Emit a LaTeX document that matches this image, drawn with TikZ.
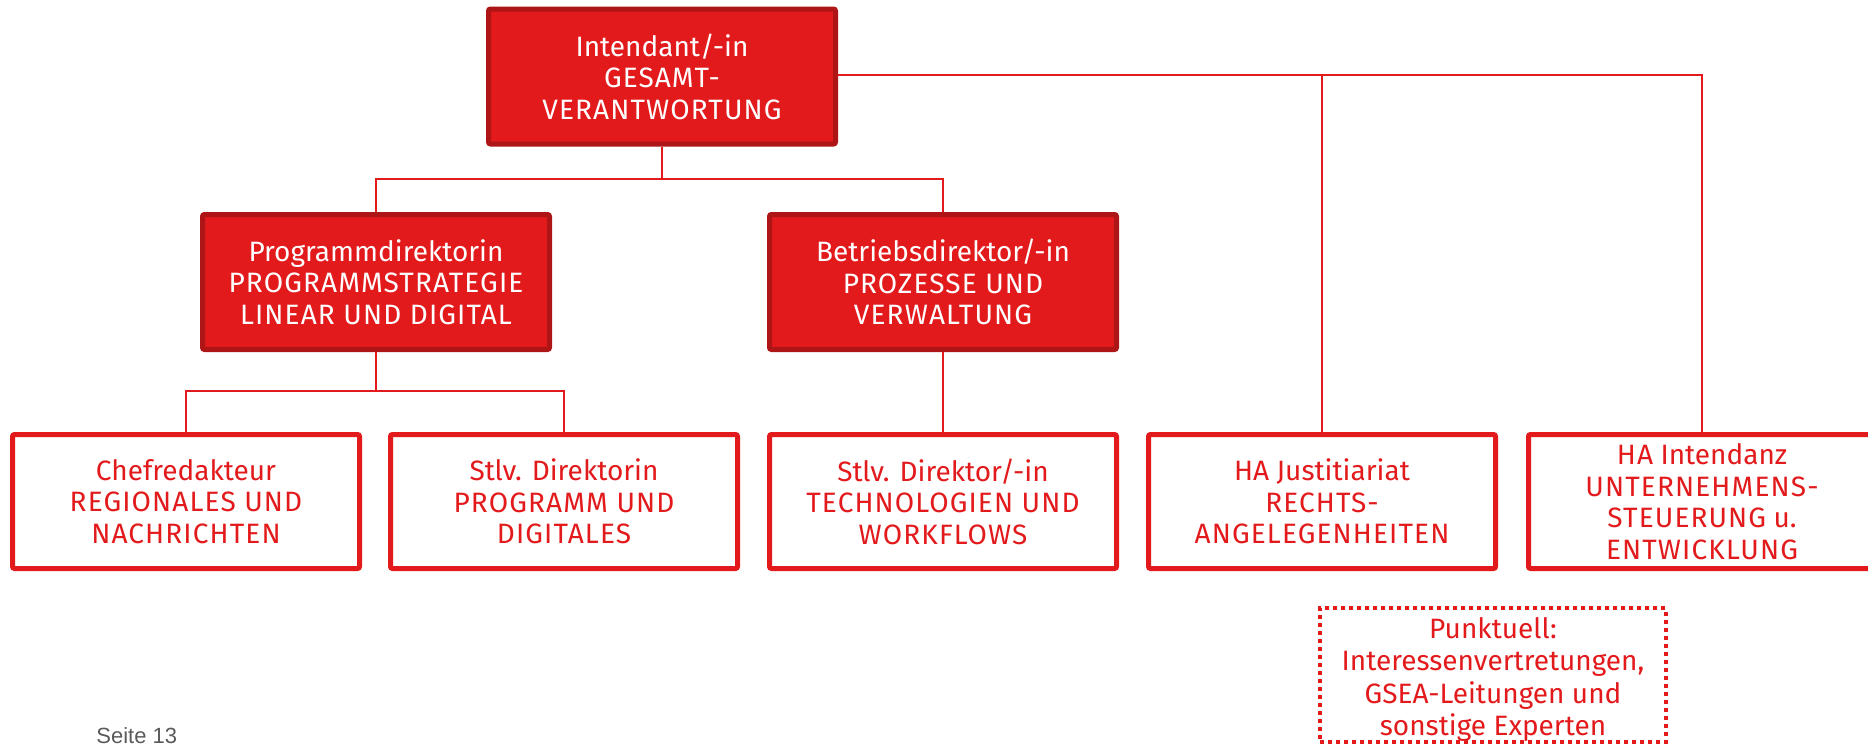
\documentclass[tikz,border=0pt]{standalone}
\usepackage{fontspec}
\setmainfont{Fira Sans}
\newfontfamily\capsf[LetterSpace=4]{Fira Sans}
\newfontfamily\arialfont{Liberation Sans}
\definecolor{boxred}{HTML}{E31A1C}
\definecolor{darkred}{HTML}{AE1517}
\definecolor{pagegrey}{HTML}{5A5A5A}
\newcommand{\cp}[1]{{\capsf #1}}
\begin{document}
\begin{tikzpicture}[x=0.5pt,y=-0.5pt,
  lead/.style={draw=darkred, line width=2.5pt, fill=boxred, text=white,
    minimum width=173.5pt, minimum height=67.5pt, inner sep=0pt, align=center,
    rounded corners=1pt, font=\fontsize{14}{15.75}\selectfont},
  unit/.style={draw=boxred, line width=2.5pt, fill=white, text=boxred,
    minimum width=173.5pt, minimum height=67pt, inner sep=0pt, align=center,
    rounded corners=1pt, font=\fontsize{14}{15.75}\selectfont},
  note/.style={draw=boxred, line width=2pt, dash pattern=on 2pt off 2pt, text=boxred,
    minimum width=173pt, minimum height=65pt, inner sep=0pt, align=center,
    font=\fontsize{14}{16.2}\selectfont},
  conn/.style={draw=boxred, line width=1pt}]
\useasboundingbox (0,0) rectangle (1868,744);
% boxes
\node[lead] (int) at (662,76.5) {Intendant/-in\\\cp{GESAMT-}\\\cp{VERANTWORTUNG}};
\node[lead] (prog) at (376,282) {Programmdirektorin\\\cp{PROGRAMMSTRATEGIE}\\\cp{LINEAR UND DIGITAL}};
\node[lead] (betr) at (943,282) {Betriebsdirektor/-in\\\cp{PROZESSE UND}\\\cp{VERWALTUNG}};
\node[unit] (chef) at (186,501.5) {Chefredakteur\\\cp{REGIONALES UND}\\\cp{NACHRICHTEN}};
\node[unit] (stlvp) at (564,501.5) {Stlv. Direktorin\\\cp{PROGRAMM UND}\\\cp{DIGITALES}};
\node[unit] (stlvt) at (943,501.5) {Stlv. Direktor/-in\\\cp{TECHNOLOGIEN UND}\\\cp{WORKFLOWS}};
\node[unit] (just) at (1322,501.5) {HA Justitiariat\\\cp{RECHTS-}\\\cp{ANGELEGENHEITEN}};
\node[unit] (intz) at (1702,501.5) {\cp{HA} Intendanz\\\cp{UNTERNEHMENS-}\\\cp{STEUERUNG} u.\\\cp{ENTWICKLUNG}};
\node[note] (punkt) at (1493,675) {\rule{0pt}{15pt}Punktuell:\\Interessenvertretungen,\\GSEA-Leitungen und\\sonstige Experten};
\node[anchor=base west, text=pagegrey, font=\arialfont\fontsize{11}{13}\selectfont, inner sep=0pt] (seite) at (96,743) {Seite 13};
% connectors
\coordinate (j1) at (662,179);
\coordinate (j2) at (376,391);
\coordinate (t1) at (1702,75);
\draw[conn] (int.south) -- (j1) -| (prog.north);
\draw[conn] (j1) -| (betr.north);
\draw[conn] (int.east |- t1) -- (t1) -- (intz.north);
\draw[conn] (just.north) -- (just.north |- t1);
\draw[conn] (prog.south) -- (j2) -| (chef.north);
\draw[conn] (j2) -| (stlvp.north);
\draw[conn] (betr.south) -- (stlvt.north);
\end{tikzpicture}
\end{document}
